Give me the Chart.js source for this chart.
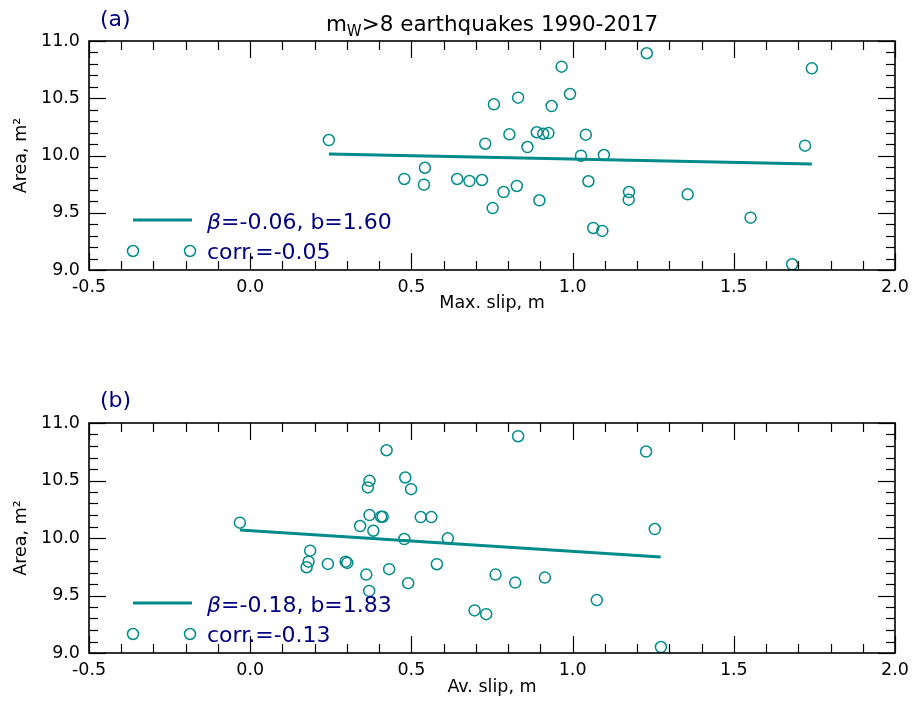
<!DOCTYPE html>
<html>
<head>
<meta charset="utf-8">
<script src="https://cdn.jsdelivr.net/npm/chart.js@4.4.1/dist/chart.umd.min.js"></script>
<style>
  html, body { margin: 0; padding: 0; background: #fff; }
  #wrap { position: relative; width: 912px; height: 702px; }
  .panel { position: absolute; left: 0; width: 912px; height: 351px; }
</style>
</head>
<body>
<div id="wrap">
  <div class="panel" style="top:0"><canvas id="chartA" width="912" height="351"></canvas></div>
  <div class="panel" style="top:351px"><canvas id="chartB" width="912" height="351"></canvas></div>
</div>
<script>
//data: (a) max slip vs area, (b) average slip vs area.
const maxSlip = [0.244, 0.478, 0.542, 0.539, 0.642, 0.680, 0.719, 0.729, 0.752, 0.756, 0.786, 0.804,
  0.831, 0.827, 0.860, 0.889, 0.897, 0.909, 0.925, 0.935, 0.966, 0.992, 1.026, 1.041,
  1.049, 1.064, 1.092, 1.097, 1.175, 1.174, 1.230, 1.357, 1.552, 1.681, 1.721, 1.742];
const areaA = [10.135, 9.795, 9.893, 9.745, 9.795, 9.777, 9.786, 10.103, 9.541, 10.447, 9.681, 10.185,
  10.505, 9.734, 10.074, 10.203, 9.609, 10.190, 10.196, 10.432, 10.776, 10.537, 9.998, 10.182,
  9.775, 9.367, 9.341, 10.004, 9.681, 9.614, 10.893, 9.661, 9.457, 9.050, 10.086, 10.761];

const avSlip = [-0.032, 0.175, 0.181, 0.186, 0.241, 0.296, 0.301, 0.341, 0.360, 0.365, 0.369, 0.370,
  0.370, 0.382, 0.406, 0.411, 0.423, 0.431, 0.478, 0.481, 0.490, 0.499, 0.529, 0.562,
  0.579, 0.613, 0.696, 0.732, 0.761, 0.822, 0.831, 0.914, 1.075, 1.228, 1.255, 1.274];
const areaB = [10.133, 9.746, 9.794, 9.890, 9.775, 9.794, 9.783, 10.104, 9.682, 10.440, 9.540, 10.497,
  10.199, 10.063, 10.185, 10.185, 10.763, 9.729, 9.991, 10.526, 9.607, 10.425, 10.182, 10.182,
  9.772, 9.997, 9.370, 9.338, 9.682, 9.612, 10.885, 9.656, 9.460, 10.752, 10.078, 9.052];

//fitted lines, end points only.
const fitAx = [0.244, 1.742];
const fitAy = [10.013, 9.926];
const fitBx = [-0.032, 1.273];
const fitBy = [10.069, 9.835];

//tick labels of both panels.
const xTicks = [-0.5, 0.0, 0.5, 1.0, 1.5, 2.0];
const yTicks = [9.0, 9.5, 10.0, 10.5, 11.0];

//legend texts.
const fitTextA = ['β', '=-0.06, b=1.60'];
const corrTextA = 'corr.=-0.05';
const fitTextB = ['β', '=-0.18, b=1.83'];
const corrTextB = 'corr.=-0.13';

const TEAL = '#008b8b';
const NAVY = '#000080';
const FONT = 'DejaVu Sans';

const toPoints = (xs, ys) => xs.map((x, i) => ({ x: x, y: ys[i] }));

//inward ticks on all four sides plus the frame, like the original plot.
const frameTicks = {
  id: 'frameTicks',
  afterDatasetsDraw(chart) {
    const { ctx, chartArea: a, scales: { x, y } } = chart;
    const seg = (x1, y1, x2, y2) => { ctx.beginPath(); ctx.moveTo(x1, y1); ctx.lineTo(x2, y2); ctx.stroke(); };
    ctx.save();
    ctx.strokeStyle = '#000';
    ctx.lineWidth = 1.2;
    const x0 = xTicks[0], x1 = xTicks[xTicks.length - 1];
    for (let i = 0; i <= Math.round((x1 - x0) / 0.1); i++) {
      const px = Math.round(x.getPixelForValue(x0 + i * 0.1)) + 0.5;
      const len = i % 5 === 0 ? 17 : 9;
      seg(px, a.bottom, px, a.bottom - len);
      seg(px, a.top, px, a.top + len);
    }
    const y0 = yTicks[0], y1 = yTicks[yTicks.length - 1];
    for (let i = 0; i <= Math.round((y1 - y0) / 0.1); i++) {
      const py = Math.round(y.getPixelForValue(y0 + i * 0.1)) + 0.5;
      const len = i % 5 === 0 ? 17 : 9;
      seg(a.left, py, a.left + len, py);
      seg(a.right, py, a.right - len, py);
    }
    ctx.lineWidth = 1.6;
    ctx.strokeRect(a.left, a.top, a.right - a.left, a.bottom - a.top);
    ctx.restore();
  }
};

//legend inside the plot, lower left, and the panel letter.
const panelText = {
  id: 'panelText',
  afterDraw(chart) {
    const o = chart.options.plugins.panelText;
    const { ctx, chartArea: a } = chart;
    ctx.save();
    //fit line sample
    ctx.strokeStyle = TEAL;
    ctx.lineWidth = 3;
    ctx.beginPath();
    ctx.moveTo(a.left + 44, a.bottom - 50);
    ctx.lineTo(a.left + 103, a.bottom - 50);
    ctx.stroke();
    //two open circles for the points
    ctx.lineWidth = 1.5;
    [44, 101].forEach(dx => {
      ctx.beginPath();
      ctx.arc(a.left + dx, a.bottom - 19, 5.5, 0, Math.PI * 2);
      ctx.stroke();
    });
    ctx.fillStyle = NAVY;
    ctx.textBaseline = 'alphabetic';
    ctx.textAlign = 'left';
    ctx.font = 'italic 22px "' + FONT + '"';
    ctx.fillText(o.fit[0], a.left + 118, a.bottom - 41);
    const w = ctx.measureText(o.fit[0]).width;
    ctx.font = '22px "' + FONT + '"';
    ctx.fillText(o.fit[1], a.left + 118 + w, a.bottom - 41);
    ctx.fillText(o.corr, a.left + 118, a.bottom - 11);
    //panel letter
    ctx.font = '22px "' + FONT + '"';
    ctx.fillText(o.letter, 100, o.letterY);
    //title with subscript W
    if (o.title) {
      ctx.fillStyle = '#000';
      const big = '21.5px "' + FONT + '"', small = '15px "' + FONT + '"';
      const parts = [['m', big, 0], ['W', small, 5], [o.title, big, 0]];
      let total = 0;
      parts.forEach(p => { ctx.font = p[1]; total += ctx.measureText(p[0]).width; });
      let cx = (a.left + a.right) / 2 - total / 2;
      parts.forEach(p => {
        ctx.font = p[1];
        ctx.fillText(p[0], cx, 30.5 + p[2]);
        cx += ctx.measureText(p[0]).width;
      });
    }
    ctx.restore();
  }
};

function makePanel(id, pts, fit, xTitle, opts) {
  const axisFont = { family: FONT, size: 17.5 };
  return new Chart(document.getElementById(id), {
    type: 'scatter',
    data: {
      datasets: [{
        data: pts,
        showLine: false,
        pointStyle: 'circle',
        pointRadius: 5.5,
        pointHoverRadius: 5.5,
        pointBorderWidth: 1.5,
        pointBorderColor: TEAL,
        pointBackgroundColor: 'rgba(0,0,0,0)'
      }, {
        data: fit,
        showLine: true,
        borderColor: TEAL,
        borderWidth: 3,
        pointRadius: 0
      }]
    },
    options: {
      responsive: false,
      animation: false,
      events: [],
      layout: { padding: { left: 0, right: 17, top: opts.top, bottom: opts.bottom } },
      plugins: {
        legend: { display: false },
        tooltip: { enabled: false },
        panelText: opts.text
      },
      scales: {
        x: {
          type: 'linear',
          min: xTicks[0],
          max: xTicks[xTicks.length - 1],
          afterBuildTicks: s => { s.ticks = xTicks.map(v => ({ value: v })); },
          afterFit: s => { s.height = opts.xHeight; s.paddingLeft = 0; s.paddingRight = 0; },
          grid: { display: false, drawTicks: false },
          border: { display: false },
          ticks: { color: '#000', font: axisFont, padding: 7, maxRotation: 0, callback: v => v.toFixed(1) },
          title: { display: true, text: xTitle, color: '#000', font: axisFont, padding: { top: 0, bottom: opts.titlePad } }
        },
        y: {
          type: 'linear',
          min: yTicks[0],
          max: yTicks[yTicks.length - 1],
          afterBuildTicks: s => { s.ticks = yTicks.map(v => ({ value: v })); },
          afterFit: s => { s.width = 89; },
          grid: { display: false, drawTicks: false },
          border: { display: false },
          ticks: { color: '#000', font: axisFont, padding: 9, callback: v => v.toFixed(1) },
          title: { display: true, text: 'Area, m²', color: '#000', font: axisFont, padding: { top: 11, bottom: 0 } }
        }
      }
    },
    plugins: [frameTicks, panelText]
  });
}

makePanel('chartA', toPoints(maxSlip, areaA), toPoints(fitAx, fitAy), 'Max. slip, m', {
  top: 41, bottom: 31, xHeight: 50, titlePad: 6,
  text: { fit: fitTextA, corr: corrTextA, letter: '(a)', letterY: 25.5, title: '>8 earthquakes 1990-2017' }
});

makePanel('chartB', toPoints(avSlip, areaB), toPoints(fitBx, fitBy), 'Av. slip, m', {
  top: 72, bottom: 0, xHeight: 49, titlePad: 4,
  text: { fit: fitTextB, corr: corrTextB, letter: '(b)', letterY: 56 }
});
</script>
</body>
</html>
